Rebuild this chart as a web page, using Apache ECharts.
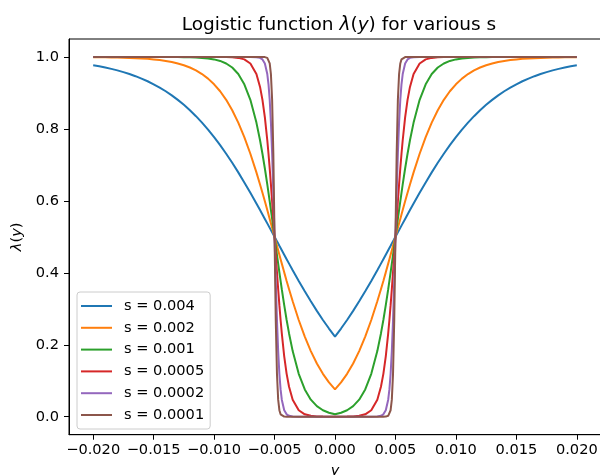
<!DOCTYPE html>
<html>
<head>
<meta charset="utf-8">
<script src="https://cdn.jsdelivr.net/npm/echarts@6/dist/echarts.min.js"></script>
<style>html,body{margin:0;padding:0;background:#fff}#c{width:600px;height:475px}</style>
</head>
<body>
<div id="c"></div>
<script>
const xs = [-0.020, -0.0195, -0.019, -0.0185, -0.018, -0.0175, -0.017, -0.0165, -0.016, -0.0155,
  -0.015, -0.0145, -0.014, -0.0135, -0.013, -0.0125, -0.012, -0.0115, -0.011, -0.0105,
  -0.010, -0.0095, -0.009, -0.0085, -0.008, -0.0075, -0.007, -0.0065, -0.0062, -0.006,
  -0.0058, -0.0056, -0.0055, -0.0054, -0.0053, -0.0052, -0.0051, -0.005, -0.0049, -0.0048,
  -0.0047, -0.0046, -0.0045, -0.0044, -0.0042, -0.004, -0.0038, -0.0035, -0.003, -0.0025,
  -0.002, -0.0015, -0.001, -0.0005,
  0,
  0.0005, 0.001, 0.0015, 0.002, 0.0025, 0.003, 0.0035, 0.0038, 0.004, 0.0042,
  0.0044, 0.0045, 0.0046, 0.0047, 0.0048, 0.0049, 0.005, 0.0051, 0.0052, 0.0053,
  0.0054, 0.0055, 0.0056, 0.0058, 0.006, 0.0062, 0.0065, 0.007, 0.0075, 0.008,
  0.0085, 0.009, 0.0095, 0.010, 0.0105, 0.011, 0.0115, 0.012, 0.0125, 0.013,
  0.0135, 0.014, 0.0145, 0.015, 0.0155, 0.016, 0.0165, 0.017, 0.0175, 0.018,
  0.0185, 0.019, 0.0195, 0.020];

const s0004 = [0.9770, 0.9741, 0.9707, 0.9669, 0.9627, 0.9579, 0.9526, 0.9466, 0.9399, 0.9325,
  0.9241, 0.9149, 0.9047, 0.8933, 0.8808, 0.8670, 0.8520, 0.8355, 0.8176, 0.7982,
  0.7773, 0.7549, 0.7311, 0.7058, 0.6792, 0.6513, 0.6225, 0.5927, 0.5744, 0.5622,
  0.5498, 0.5374, 0.5312, 0.5250, 0.5187, 0.5125, 0.5062, 0.5000, 0.4938, 0.4875,
  0.4813, 0.4750, 0.4688, 0.4626, 0.4502, 0.4378, 0.4256, 0.4073, 0.3775, 0.3487,
  0.3208, 0.2942, 0.2689, 0.2451,
  0.2227,
  0.2451, 0.2689, 0.2942, 0.3208, 0.3487, 0.3775, 0.4073, 0.4256, 0.4378, 0.4502,
  0.4626, 0.4688, 0.4750, 0.4813, 0.4875, 0.4938, 0.5000, 0.5062, 0.5125, 0.5187,
  0.5250, 0.5312, 0.5374, 0.5498, 0.5622, 0.5744, 0.5927, 0.6225, 0.6513, 0.6792,
  0.7058, 0.7311, 0.7549, 0.7773, 0.7982, 0.8176, 0.8355, 0.8520, 0.8670, 0.8808,
  0.8933, 0.9047, 0.9149, 0.9241, 0.9325, 0.9399, 0.9466, 0.9526, 0.9579, 0.9627,
  0.9669, 0.9707, 0.9741, 0.9770];

const s0002 = [0.9994, 0.9993, 0.9991, 0.9988, 0.9985, 0.9981, 0.9975, 0.9968, 0.9959, 0.9948,
  0.9933, 0.9914, 0.9890, 0.9859, 0.9820, 0.9770, 0.9707, 0.9627, 0.9526, 0.9399,
  0.9241, 0.9047, 0.8808, 0.8520, 0.8176, 0.7773, 0.7311, 0.6792, 0.6457, 0.6225,
  0.5987, 0.5744, 0.5622, 0.5498, 0.5374, 0.5250, 0.5125, 0.5000, 0.4875, 0.4750,
  0.4626, 0.4502, 0.4378, 0.4256, 0.4013, 0.3775, 0.3543, 0.3208, 0.2689, 0.2227,
  0.1824, 0.1480, 0.1192, 0.0953,
  0.0759,
  0.0953, 0.1192, 0.1480, 0.1824, 0.2227, 0.2689, 0.3208, 0.3543, 0.3775, 0.4013,
  0.4256, 0.4378, 0.4502, 0.4626, 0.4750, 0.4875, 0.5000, 0.5125, 0.5250, 0.5374,
  0.5498, 0.5622, 0.5744, 0.5987, 0.6225, 0.6457, 0.6792, 0.7311, 0.7773, 0.8176,
  0.8520, 0.8808, 0.9047, 0.9241, 0.9399, 0.9526, 0.9627, 0.9707, 0.9770, 0.9820,
  0.9859, 0.9890, 0.9914, 0.9933, 0.9948, 0.9959, 0.9968, 0.9975, 0.9981, 0.9985,
  0.9988, 0.9991, 0.9993, 0.9994];

const s0001 = [1, 1, 1, 1, 1, 1, 1, 1, 1, 1,
  1, 0.9999, 0.9999, 0.9998, 0.9997, 0.9994, 0.9991, 0.9985, 0.9975, 0.9959,
  0.9933, 0.9890, 0.9820, 0.9707, 0.9526, 0.9241, 0.8808, 0.8176, 0.7685, 0.7311,
  0.6900, 0.6457, 0.6225, 0.5987, 0.5744, 0.5498, 0.5250, 0.5000, 0.4750, 0.4502,
  0.4256, 0.4013, 0.3775, 0.3543, 0.3100, 0.2689, 0.2315, 0.1824, 0.1192, 0.0759,
  0.0474, 0.0293, 0.0180, 0.0110,
  0.0067,
  0.0110, 0.0180, 0.0293, 0.0474, 0.0759, 0.1192, 0.1824, 0.2315, 0.2689, 0.3100,
  0.3543, 0.3775, 0.4013, 0.4256, 0.4502, 0.4750, 0.5000, 0.5250, 0.5498, 0.5744,
  0.5987, 0.6225, 0.6457, 0.6900, 0.7311, 0.7685, 0.8176, 0.8808, 0.9241, 0.9526,
  0.9707, 0.9820, 0.9890, 0.9933, 0.9959, 0.9975, 0.9985, 0.9991, 0.9994, 0.9997,
  0.9998, 0.9999, 0.9999, 1, 1, 1, 1, 1, 1, 1,
  1, 1, 1, 1];

const s00005 = [1, 1, 1, 1, 1, 1, 1, 1, 1, 1,
  1, 1, 1, 1, 1, 1, 1, 1, 1, 1,
  1, 0.9999, 0.9997, 0.9991, 0.9975, 0.9933, 0.9820, 0.9526, 0.9168, 0.8808,
  0.8320, 0.7685, 0.7311, 0.6900, 0.6457, 0.5987, 0.5498, 0.5000, 0.4502, 0.4013,
  0.3543, 0.3100, 0.2689, 0.2315, 0.1680, 0.1192, 0.0832, 0.0474, 0.0180, 0.0067,
  0.0025, 0.0009, 0.0003, 0.0001,
  0.0000,
  0.0001, 0.0003, 0.0009, 0.0025, 0.0067, 0.0180, 0.0474, 0.0832, 0.1192, 0.1680,
  0.2315, 0.2689, 0.3100, 0.3543, 0.4013, 0.4502, 0.5000, 0.5498, 0.5987, 0.6457,
  0.6900, 0.7311, 0.7685, 0.8320, 0.8808, 0.9168, 0.9526, 0.9820, 0.9933, 0.9975,
  0.9991, 0.9997, 0.9999, 1, 1, 1, 1, 1, 1, 1,
  1, 1, 1, 1, 1, 1, 1, 1, 1, 1,
  1, 1, 1, 1];

const s00002 = [1, 1, 1, 1, 1, 1, 1, 1, 1, 1,
  1, 1, 1, 1, 1, 1, 1, 1, 1, 1,
  1, 1, 1, 1, 1, 1, 1, 0.9994, 0.9975, 0.9933,
  0.9820, 0.9526, 0.9241, 0.8808, 0.8176, 0.7311, 0.6225, 0.5000, 0.3775, 0.2689,
  0.1824, 0.1192, 0.0759, 0.0474, 0.0180, 0.0067, 0.0025, 0.0006, 0, 0,
  0, 0, 0, 0,
  0,
  0, 0, 0, 0, 0, 0, 0.0006, 0.0025, 0.0067, 0.0180,
  0.0474, 0.0759, 0.1192, 0.1824, 0.2689, 0.3775, 0.5000, 0.6225, 0.7311, 0.8176,
  0.8808, 0.9241, 0.9526, 0.9820, 0.9933, 0.9975, 0.9994, 1, 1, 1,
  1, 1, 1, 1, 1, 1, 1, 1, 1, 1,
  1, 1, 1, 1, 1, 1, 1, 1, 1, 1,
  1, 1, 1, 1];

const s00001 = [1, 1, 1, 1, 1, 1, 1, 1, 1, 1,
  1, 1, 1, 1, 1, 1, 1, 1, 1, 1,
  1, 1, 1, 1, 1, 1, 1, 1, 1, 1,
  0.9997, 0.9975, 0.9933, 0.9820, 0.9526, 0.8808, 0.7311, 0.5000, 0.2689, 0.1192,
  0.0474, 0.0180, 0.0067, 0.0025, 0.0003, 0, 0, 0, 0, 0,
  0, 0, 0, 0,
  0,
  0, 0, 0, 0, 0, 0, 0, 0, 0, 0.0003,
  0.0025, 0.0067, 0.0180, 0.0474, 0.1192, 0.2689, 0.5000, 0.7311, 0.8808, 0.9526,
  0.9820, 0.9933, 0.9975, 0.9997, 1, 1, 1, 1, 1, 1,
  1, 1, 1, 1, 1, 1, 1, 1, 1, 1,
  1, 1, 1, 1, 1, 1, 1, 1, 1, 1,
  1, 1, 1, 1];

const seriesNames = ['s = 0.004', 's = 0.002', 's = 0.001', 's = 0.0005', 's = 0.0002', 's = 0.0001'];
const seriesValues = [s0004, s0002, s0001, s00005, s00002, s00001];
const colors = ['#1f77b4', '#ff7f0e', '#2ca02c', '#d62728', '#9467bd', '#8c564b'];
const xTicks = [-0.020, -0.015, -0.010, -0.005, 0.000, 0.005, 0.010, 0.015, 0.020];
const yTicks = [0.0, 0.2, 0.4, 0.6, 0.8, 1.0];

const FONT = 'DejaVu Sans';
const TICK_FS = 14.6;
const chart = echarts.init(document.getElementById('c'), null, {renderer: 'canvas'});

const option = {
  animation: false,
  backgroundColor: '#fff',
  color: colors,
  title: {
    text: 'Logistic function {i|λ}({i|y}) for various s',
    left: 334, top: 11, textAlign: 'center',
    textStyle: {
      fontFamily: FONT, fontSize: 18.5, fontWeight: 'normal', color: '#000',
      rich: { i: { fontFamily: FONT, fontSize: 18.5, fontStyle: 'italic', color: '#000' } }
    }
  },
  grid: { left: 69, top: 39, right: -1, bottom: 40.3, show: true, borderColor: '#000', borderWidth: 1,
    containLabel: false, outerBoundsMode: 'none' },
  legend: {
    orient: 'vertical', left: 77, top: 292,
    padding: [6, 6, 6, 4],
    icon: 'rect',
    itemWidth: 31, itemHeight: 2, itemGap: 5.8,
    backgroundColor: 'rgba(255,255,255,0.8)', borderColor: '#cccccc', borderWidth: 1, borderRadius: 3,
    textStyle: { fontFamily: FONT, fontSize: TICK_FS, lineHeight: 16, color: '#000', padding: [0, 0, 0, 7] },
    data: seriesNames
  },
  xAxis: {
    type: 'value', min: -0.022, max: 0.022,
    name: '{i|y}', nameLocation: 'middle', nameGap: 29,
    nameTextStyle: { fontFamily: FONT, fontSize: TICK_FS, color: '#000', rich: { i: { fontFamily: FONT, fontSize: TICK_FS, fontStyle: 'italic', color: '#000' } } },
    axisLine: { show: true, onZero: false, lineStyle: { color: '#000', width: 1 } },
    axisTick: { show: true, length: 5, customValues: xTicks, lineStyle: { color: '#000', width: 1 } },
    axisLabel: { customValues: xTicks, margin: 8, fontFamily: FONT, fontSize: TICK_FS, color: '#000',
      formatter: v => v.toFixed(3).replace('-', '\u2212') },
    splitLine: { show: false }
  },
  yAxis: {
    type: 'value', min: -0.05, max: 1.05,
    name: '{i|λ}({i|y})', nameLocation: 'middle', nameGap: 37, nameRotate: 90,
    nameTextStyle: { fontFamily: FONT, fontSize: TICK_FS, color: '#000', rich: { i: { fontFamily: FONT, fontSize: TICK_FS, fontStyle: 'italic', color: '#000' } } },
    axisLine: { show: true, onZero: false, lineStyle: { color: '#000', width: 1 } },
    axisTick: { show: true, length: 5, customValues: yTicks, lineStyle: { color: '#000', width: 1 } },
    axisLabel: { customValues: yTicks, margin: 10, fontFamily: FONT, fontSize: TICK_FS, color: '#000',
      formatter: v => v.toFixed(1) },
    splitLine: { show: false }
  },
  series: seriesNames.map((n, k) => ({
    name: n, type: 'line', symbol: 'none', showSymbol: false, smooth: false,
    lineStyle: { width: 2, color: colors[k] },
    itemStyle: { color: colors[k] },
    data: xs.map((x, i) => [x, seriesValues[k][i]])
  }))
};
chart.setOption(option);
</script>
</body>
</html>
